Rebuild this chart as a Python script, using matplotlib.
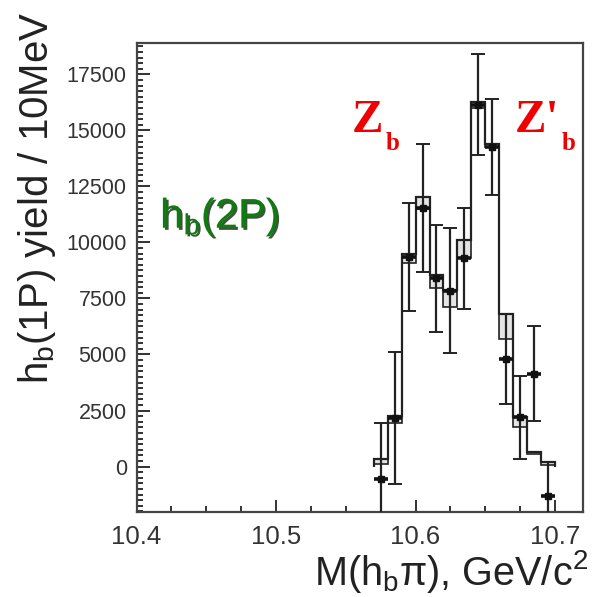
import numpy as np
import matplotlib
matplotlib.use("Agg")
import matplotlib.pyplot as plt
from matplotlib.ticker import MultipleLocator, FormatStrFormatter
import matplotlib.patheffects as pe

# h_b(1P) yield per 10 MeV bin versus M(h_b pi)
bin_centers = [10.575, 10.585, 10.595, 10.605, 10.615, 10.625, 10.635,
               10.645, 10.655, 10.665, 10.675, 10.685, 10.695]
yield_vals = [-550, 2150, 9350, 11550, 8400, 7850, 9300,
              16150, 14250, 4800, 2200, 4150, -1300]
yield_errs = [2500, 2950, 2400, 2850, 2400, 2800, 2250,
              2250, 2150, 2000, 1850, 2100, 1500]

# fit result per bin (lower / upper edge of the fit box)
fit_lo = [100, 1950, 9100, 11500, 7950, 7100, 9300,
          16000, 14250, 5700, 1750, 560, 60]
fit_hi = [330, 2270, 9500, 12050, 8550, 7900, 10100,
          16250, 14400, 6800, 2200, 630, 180]

bin_width = 0.01
x_ticks = [10.4, 10.5, 10.6, 10.7]

plt.rcParams["font.family"] = ["Liberation Sans", "DejaVu Sans"]
plt.rcParams["mathtext.fontset"] = "custom"
plt.rcParams["mathtext.rm"] = "Liberation Sans"
plt.rcParams["mathtext.it"] = "Liberation Sans:italic"
plt.rcParams["mathtext.bf"] = "Liberation Sans:bold"

W, H = 594, 597
fig = plt.figure(figsize=(W / 100, H / 100), dpi=100)
ax = fig.add_axes([136.5 / W, 1 - 512 / H, (583 - 136.5) / W, (512 - 43.3) / H])

centers = np.array(bin_centers)
lo = np.array(fit_lo)
hi = np.array(fit_hi)
edges = np.append(centers - bin_width / 2, centers[-1] + bin_width / 2)

ink = "#222222"

# fit boxes and histogram outline
ax.bar(centers, hi - lo, width=bin_width, bottom=lo, facecolor="#e4e4e4",
       edgecolor=ink, linewidth=1.2, zorder=2)
ax.stairs(hi, edges, baseline=0, fill=False, color=ink, linewidth=1.6, zorder=3)

# data points
ax.errorbar(centers, yield_vals, yerr=yield_errs, fmt="none", ecolor=ink,
            elinewidth=1.6, capsize=5, capthick=1.4, zorder=4)
ax.errorbar(centers, yield_vals, xerr=bin_width / 2, fmt="s", ms=4,
            color="#111111", elinewidth=2.6, capsize=0, zorder=5)

ax.set_xlim(10.4, 10.72)
ax.set_ylim(-2030, 18890)
ax.set_xticks(x_ticks)
ax.xaxis.set_minor_locator(MultipleLocator(0.025))
ax.yaxis.set_major_locator(MultipleLocator(2500))
ax.yaxis.set_minor_locator(MultipleLocator(250))
ax.xaxis.set_major_formatter(FormatStrFormatter("%.1f"))
ax.yaxis.set_major_formatter(FormatStrFormatter("%d"))

ax.tick_params(which="both", direction="in", top=False, right=False,
               color=ink, width=1.3, labelcolor="#333333")
ax.tick_params(which="major", length=9)
ax.tick_params(which="minor", length=4.5)
ax.tick_params(axis="x", which="major", pad=9, labelsize=18.5)
ax.tick_params(axis="y", which="major", pad=7, labelsize=15.5)
for s in ax.spines.values():
    s.set_color("#444444")
    s.set_linewidth(1.6)


def fx(px):
    return px / W


def fy(py):
    return 1 - py / H


# axis titles
fig.text(fx(37), fy(198), r"h$_\mathregular{b}$(1P) yield / 10MeV", rotation=90,
         ha="center", va="center", fontsize=29, color="#222222")
fig.text(fx(588), fy(585), r"M(h$_\mathregular{b}$π), GeV/c$^\mathregular{2}$",
         ha="right", va="baseline", fontsize=28.5, color="#222222")

# resonance labels
red = "#f00000"
serif = ["Liberation Serif", "DejaVu Serif"]
fig.text(fx(352), fy(132), "Z", ha="left", va="baseline", fontsize=34,
         fontweight="bold", family=serif, color=red)
fig.text(fx(386), fy(150), "b", ha="left", va="baseline", fontsize=18,
         fontweight="bold", family=serif, color=red)
fig.text(fx(515), fy(132), "Z'", ha="left", va="baseline", fontsize=34,
         fontweight="bold", family=serif, color=red)
fig.text(fx(562), fy(150), "b", ha="left", va="baseline", fontsize=18,
         fontweight="bold", family=serif, color=red)

green = "#0d7d0d"
shadow = [pe.SimplePatchShadow(offset=(1.5, -1.5), shadow_rgbFace="#0b2a0b", alpha=0.8),
          pe.Normal()]
fig.text(fx(160), fy(228), r"h$_\mathregular{b}$(2P)", ha="left", va="baseline",
         fontsize=30, color=green, path_effects=shadow)

fig.savefig("out.png", dpi=100)
